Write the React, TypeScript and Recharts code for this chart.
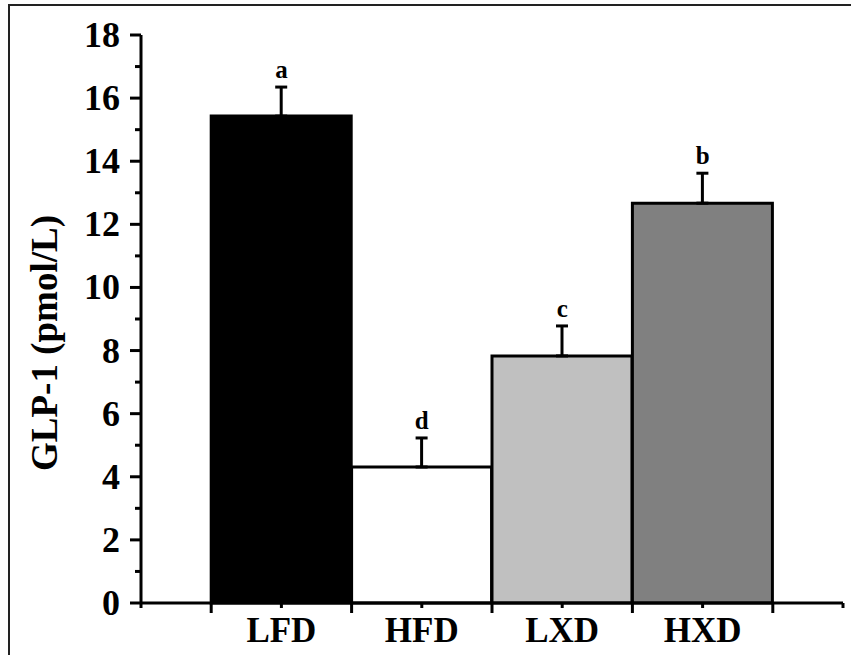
import { ComposedChart, Bar, Line, XAxis, YAxis, Cell, ErrorBar, LabelList } from 'recharts';

const categories = ['LFD', 'HFD', 'LXD', 'HXD'];
const positions = [1, 2, 3, 4];
const means = [15.43, 4.31, 7.83, 12.67];
const errors = [0.92, 0.92, 0.95, 0.95];
const letters = ['a', 'd', 'c', 'b'];
const fills = ['#000000', '#ffffff', '#c0c0c0', '#808080'];
const yTicks = [0, 1, 2, 3, 4, 5, 6, 7, 8, 9, 10, 11, 12, 13, 14, 15, 16, 17, 18];
const xTicks = [0, 0.5, 1, 1.5, 2, 2.5, 3, 3.5, 4, 4.5, 5];

const data = categories.map((name, i) => ({
  pos: positions[i],
  name,
  value: means[i],
  err: [0, errors[i]],
  top: means[i] + errors[i],
  letter: letters[i],
}));

const font = '"Liberation Serif", "Times New Roman", serif';

function XTick({ x, y, payload }: any) {
  const v = payload.value;
  const major = v % 1 !== 0;
  const idx = positions.indexOf(v);
  return (
    <g>
      <line x1={x} y1={y} x2={x} y2={y + (major ? 10 : 5)} stroke="#000" strokeWidth={3} />
      {idx >= 0 && (
        <text x={x} y={y + 39} textAnchor="middle" fontFamily={font} fontWeight="bold" fontSize={35} fill="#000">
          {categories[idx]}
        </text>
      )}
    </g>
  );
}

function YTick({ x, y, payload }: any) {
  const v = payload.value;
  const major = v % 2 === 0;
  return (
    <g>
      <line x1={x} y1={y} x2={x - (major ? 11 : 6)} y2={y} stroke="#000" strokeWidth={3} />
      {major && (
        <text x={x - 21} y={y + 12} textAnchor="end" fontFamily={font} fontWeight="bold" fontSize={36} fill="#000">
          {v}
        </text>
      )}
    </g>
  );
}

export default function App() {
  return (
    <div style={{ position: 'absolute', left: 0, top: 0, width: 851, height: 655, background: '#fff' }}>
      <div
        style={{
          position: 'absolute',
          left: 8,
          top: 4,
          width: 843,
          height: 651,
          borderLeft: '2px solid #222',
          borderTop: '2px solid #222',
        }}
      />
      <ComposedChart
        width={851}
        height={655}
        data={data}
        margin={{ top: 35, right: 8, bottom: 0, left: 0 }}
        style={{ position: 'absolute', left: 0, top: 0 }}
      >
        <XAxis
          dataKey="pos"
          type="number"
          domain={[0, 5]}
          ticks={xTicks}
          interval={0}
          height={52}
          tickSize={0}
          tickMargin={0}
          tickLine={false}
          axisLine={{ stroke: '#000', strokeWidth: 3 }}
          tick={<XTick />}
        />
        <YAxis
          type="number"
          domain={[0, 18]}
          ticks={yTicks}
          interval={0}
          width={141}
          tickSize={0}
          tickMargin={0}
          tickLine={false}
          axisLine={{ stroke: '#000', strokeWidth: 3 }}
          tick={<YTick />}
          label={{
            content: () => (
              <text
                x={44}
                y={343}
                transform="rotate(-90 44 343)"
                textAnchor="middle"
                dominantBaseline="central"
                fontFamily={font}
                fontWeight="bold"
                fontSize={37}
                fill="#000"
              >
                GLP-1 (pmol/L)
              </text>
            ),
          }}
        />
        <Bar dataKey="value" barSize={140} stroke="#000" strokeWidth={3} isAnimationActive={false}>
          {data.map((d, i) => (
            <Cell key={d.name} fill={fills[i]} />
          ))}
          <ErrorBar dataKey="err" direction="y" width={6} stroke="#000" strokeWidth={3} />
        </Bar>
        <Line
          dataKey="top"
          stroke="none"
          dot={false}
          activeDot={false}
          legendType="none"
          isAnimationActive={false}
        >
          <LabelList
            dataKey="letter"
            position="top"
            offset={9}
            fill="#000"
            fontFamily={font}
            fontWeight="bold"
            fontSize={25}
          />
        </Line>
      </ComposedChart>
    </div>
  );
}
